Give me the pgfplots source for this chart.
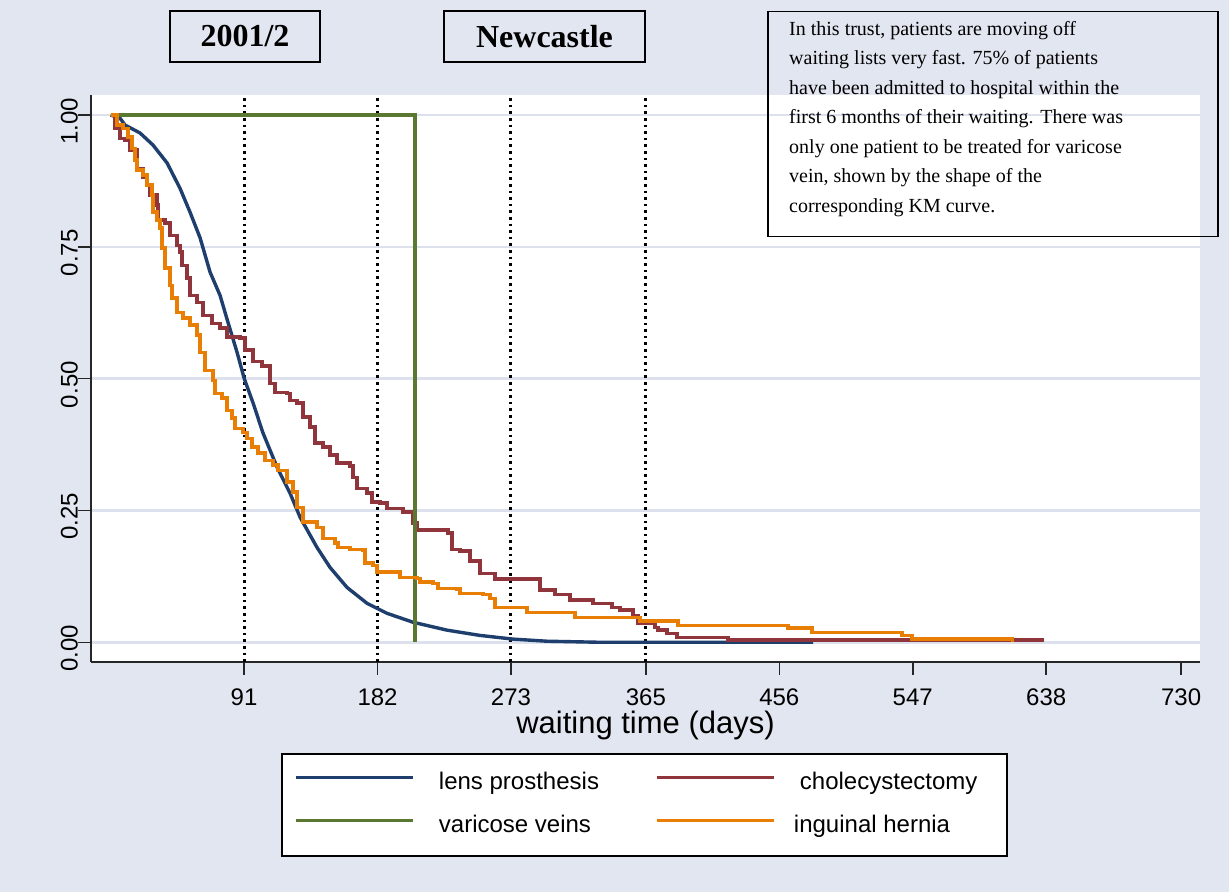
\documentclass[border=0pt]{standalone}
\usepackage{fontspec}
\setmainfont{Liberation Serif}
\setsansfont{Liberation Sans}
\usepackage{pgfplots}
\pgfplotsset{compat=1.18}

\definecolor{bgcol}{RGB}{226,230,240}
\definecolor{gridcol}{RGB}{220,225,237}
\definecolor{cNavy}{RGB}{30,62,110}
\definecolor{cMaroon}{RGB}{144,53,59}
\definecolor{cGreen}{RGB}{90,120,50}
\definecolor{cOrange}{RGB}{232,126,4}

\pgfplotsset{kmleg/.style={legend image code/.code={\draw[##1,line width=3bp] (0bp,6bp) -- (117bp,6bp);}},
  refline/.style={forget plot, black, line width=3bp, dash pattern=on 2.6bp off 4bp}}

\begin{document}
\begin{tikzpicture}
\useasboundingbox (0,0) rectangle (1229bp,892bp);
\fill[bgcol] (0,0) rectangle (1229bp,892bp);
\begin{axis}[
    at={(91bp,230bp)}, anchor=south west,
    scale only axis, width=1109bp, height=567bp,
    xmin=-13.4, xmax=742.9, ymin=-0.0374, ymax=1.038,
    axis x line*=bottom, axis y line*=left,
    axis line style={line width=1.5bp, black!85},
    axis background/.style={fill=white},
    xtick={91,182,273,365,456,547,638,730},
    ytick={0,0.25,0.5,0.75,1},
    yticklabels={0.00,0.25,0.50,0.75,1.00},
    tick align=outside, major tick length=13bp,
    tick style={line width=1.5bp, black!85},
    ymajorgrids, major grid style={gridcol, line width=2.5bp},
    /pgf/number format/assume math mode=true,
    tick label style={font=\fontsize{24bp}{28bp}\selectfont\sffamily, inner sep=0pt},
    xticklabel style={anchor=north, yshift=-14bp},
    yticklabel style={rotate=90, anchor=south, xshift=-6bp},
    xlabel={waiting time (days)},
    every axis x label/.style={at={(axis description cs:0.5,0)}, anchor=north, yshift=-49bp,
        font=\fontsize{31bp}{34bp}\selectfont\sffamily, inner sep=0pt},
    legend columns=2,
    legend style={at={(axis description cs:0.1722,-0.1623)}, anchor=north west,
        draw=black, line width=1.5bp, fill=white, outer sep=0pt,
        inner xsep=13bp, inner ysep=18.5bp, column sep=24bp, row sep=21bp,
        font=\fontsize{24bp}{28bp}\selectfont\sffamily,
        nodes={inner sep=0pt, text height=17bp, text depth=5bp}},
    legend cell align=left,
]
% reference lines at quarters of a year
\addplot[refline] coordinates {(91,1.032) (91,-0.0374)};
\addplot[refline] coordinates {(182,1.032) (182,-0.0374)};
\addplot[refline] coordinates {(273,1.032) (273,-0.0374)};
\addplot[refline] coordinates {(365,1.032) (365,-0.0374)};

% lens prosthesis
\addplot[cNavy, line width=3.4bp, no markers, kmleg] coordinates {
(0,1.000) (6.4,0.994) (9.8,0.981) (20,0.966) (28.9,0.943) (38.5,0.909)
(47.3,0.861) (54.1,0.816) (61,0.767) (67.8,0.702) (74.6,0.658) (80,0.607)
(86.2,0.550) (91,0.501) (97.1,0.454) (103.9,0.397) (113.5,0.332) (122.3,0.283)
(129.2,0.237) (140.7,0.180) (149.6,0.142) (161.2,0.104) (174.8,0.074)
(188.4,0.055) (206.2,0.038) (229.4,0.023) (251.9,0.013) (274.4,0.006)
(297.6,0.002) (333.8,0.000) (479,0.000)
};
\addlegendentry{\makebox[193bp][l]{lens prosthesis}}

% cholecystectomy
\addplot[cMaroon, line width=3.4bp, no markers, const plot, kmleg] coordinates {
(0,1.000) (3.0,0.975) (6.4,0.956) (9.8,0.953) (13.2,0.934) (18.0,0.899)
(22.1,0.882) (24.8,0.867) (26.9,0.848) (31.6,0.829) (32.3,0.801) (37.1,0.795)
(40.5,0.772) (45.3,0.753) (47.3,0.740) (48.7,0.715) (52.1,0.691) (54.1,0.658)
(58.9,0.645) (63.0,0.620) (69.1,0.605) (74.6,0.596) (79.4,0.579) (88.2,0.577)
(91.6,0.554) (97.1,0.533) (103.2,0.524) (108.7,0.491) (112.1,0.474) (120.3,0.472)
(122.3,0.459) (127.1,0.454) (131.2,0.427) (136.0,0.408) (139.4,0.378) (144.8,0.370)
(149.6,0.355) (154.4,0.340) (163.3,0.334) (165.3,0.313) (168.0,0.292) (174.8,0.283)
(178.2,0.266) (183.7,0.264) (188.4,0.254) (199.4,0.247) (206.2,0.226) (208.9,0.213)
(230.1,0.207) (232.8,0.176) (238.3,0.173) (245.1,0.154) (251.9,0.131) (262.1,0.120)
(292.8,0.099) (303.1,0.091) (313.3,0.080) (329.0,0.074) (342.0,0.066) (347.4,0.061)
(356.3,0.051) (359.7,0.036) (371.3,0.028) (373.3,0.023) (379.5,0.017) (386.2,0.009)
(420.9,0.004) (635.0,0.000)
};
\addlegendentry{\makebox[194bp][l]{cholecystectomy}}

% varicose veins
\addplot[cGreen, line width=3.4bp, no markers, kmleg] coordinates {
(0,1) (207.6,1) (207.6,0)
};
\addlegendentry{varicose veins}

% inguinal hernia
\addplot[cOrange, line width=3.4bp, no markers, const plot, kmleg] coordinates {
(0,1.000) (4.4,0.981) (8.5,0.975) (11.9,0.958) (14.6,0.937) (16.6,0.915)
(18.0,0.896) (22.1,0.886) (24.8,0.867) (28.2,0.848) (28.9,0.816) (31.6,0.801)
(33.7,0.786) (35.1,0.748) (37.1,0.710) (40.5,0.677) (41.9,0.653) (45.3,0.626)
(49.4,0.615) (54.1,0.602) (58.9,0.583) (61.0,0.550) (64.4,0.516) (69.8,0.497)
(71.2,0.472) (76.0,0.463) (79.4,0.440) (82.8,0.425) (84.8,0.406) (90.3,0.398)
(93.0,0.387) (96.4,0.370) (100.5,0.359) (105.3,0.345) (110.7,0.336) (114.1,0.326)
(120.3,0.304) (124.4,0.285) (127.1,0.256) (131.2,0.228) (140.7,0.218) (144.8,0.197)
(153.0,0.188) (155.1,0.180) (163.3,0.176) (172.1,0.175) (173.5,0.150) (178.9,0.146)
(181.6,0.133) (197.3,0.123) (208.9,0.121) (211.0,0.114) (219.9,0.112) (223.3,0.102)
(236.2,0.101) (238.3,0.093) (254.0,0.091) (258.7,0.083) (262.1,0.066) (284.0,0.057)
(316.7,0.047) (361.0,0.040) (386.9,0.032) (462.0,0.027) (478.3,0.019) (539.7,0.013)
(546.5,0.006) (615.0,0.000)
};
\addlegendentry{\hspace{-6bp}inguinal hernia}
\end{axis}

% headings
\node[draw=black, line width=1.5bp, minimum width=150bp, minimum height=51bp, inner sep=0pt,
      font=\fontsize{32bp}{36bp}\selectfont\bfseries] at (245bp,855.5bp) {2001/2};
\node[draw=black, line width=1.5bp, minimum width=201bp, minimum height=51bp, inner sep=0pt,
      font=\fontsize{32bp}{36bp}\selectfont\bfseries] at (544.5bp,855.5bp) {Newcastle};

% note box
\draw[black, line width=1.5bp] (768bp,655.3bp) rectangle (1218bp,880.3bp);
\node[anchor=north west, inner sep=0pt, align=left,
      font=\fontsize{20bp}{29.5bp}\selectfont] at (789bp,871bp) {%
In this trust, patients are moving off\\
waiting lists very fast. 75\% of patients\\
have been admitted to hospital within the\\
first 6 months of their waiting. There was\\
only one patient to be treated for varicose\\
vein, shown by the shape of the\\
corresponding KM curve.};
\end{tikzpicture}
\end{document}
